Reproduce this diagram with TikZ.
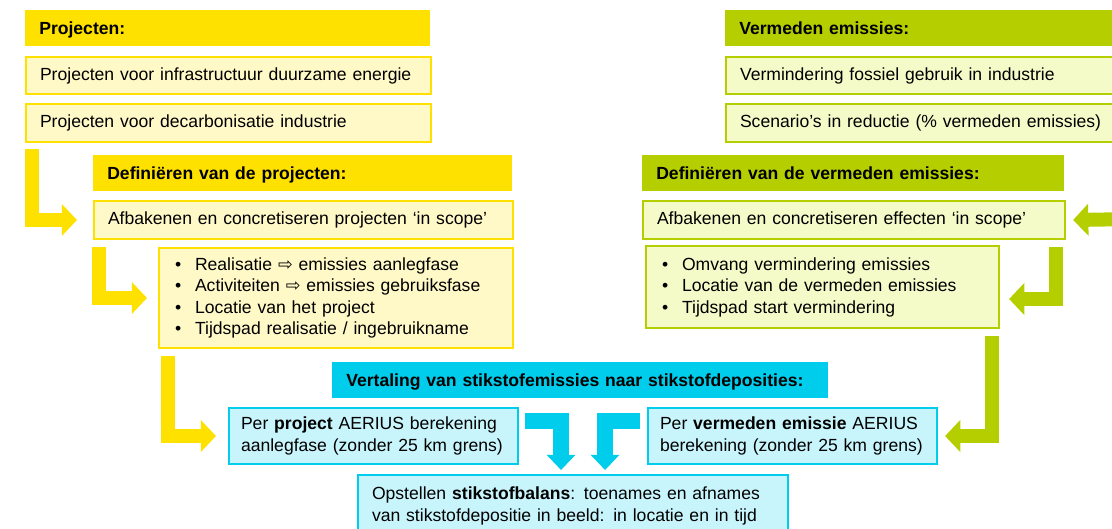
\documentclass[tikz,border=0pt]{standalone}
\usepackage{fontspec}
\setmainfont{Liberation Sans}
\newfontfamily\arrowfont{DejaVu Sans}
\usetikzlibrary{arrows.meta,calc}
\definecolor{yel}{RGB}{255,225,0}
\definecolor{yellight}{RGB}{255,249,200}
\definecolor{grn}{RGB}{181,206,0}
\definecolor{grnlight}{RGB}{245,251,200}
\definecolor{cyn}{RGB}{0,204,235}
\definecolor{cynlight}{RGB}{200,245,252}
\newcommand{\boxfont}{\fontsize{12.5}{15.3}\selectfont}
\newcommand{\itm}[1]{\makebox[0.55cm][l]{\hspace{0.05cm}\textbullet}#1}
\newcommand{\naar}{{\arrowfont\fontsize{12.5}{15}\selectfont ⇨}}

\begin{document}
\begin{tikzpicture}[x=0.025cm, y=-0.025cm,
	box/.style={rectangle, anchor=north west, align=left, inner xsep=0.35cm, inner ysep=0pt, font=\boxfont},
	hdr/.style={box, fill=#1, font=\boxfont\bfseries, minimum height=0.9cm, text height=0.32cm, text depth=0cm},
	item/.style={box, draw=#1, fill=#1light, line width=0.05cm},
	yarr/.style={draw=yel, line width=0.35cm, line join=miter, -{Triangle[length=0.38cm,width=0.78cm]}},
	garr/.style={draw=grn, line width=0.35cm, line join=miter, -{Triangle[length=0.38cm,width=0.78cm]}},
	carr/.style={draw=cyn, line width=0.4cm, line join=miter, -{Triangle[length=0.38cm,width=0.7cm]}}]
	\useasboundingbox (0,0) rectangle (1112,528);
	\clip (0,0) rectangle (1112,528);

	% projecten
	\node[hdr=yel, text width=9.425cm] (hdrP) at (25,10) {Projecten:};
	\node[item=yel, text width=9.425cm, minimum height=0.925cm] (p1) at (25,56) {Projecten voor infrastructuur duurzame  energie};
	\node[item=yel, text width=9.425cm, minimum height=0.95cm] (p2) at (25,103) {Projecten voor decarbonisatie industrie};
	\node[hdr=yel, text width=9.775cm] (hdrDP) at (93,155) {Definiëren van de projecten:};
	\node[item=yel, text width=9.775cm, minimum height=0.95cm] (afbL) at (93,200) {Afbakenen en concretiseren projecten ‘in scope’};
	\node[item=yel, text width=8.15cm, minimum height=2.5cm] (bulL) at (158,247) {\itm{Realisatie \naar{} emissies aanlegfase}\\\itm{Activiteiten \naar{} emissies gebruiksfase}\\\itm{Locatie van het project}\\\itm{Tijdspad realisatie / ingebruikname}};

	% vermeden emissies
	\node[hdr=grn, text width=9.425cm] (hdrV) at (725,10) {Vermeden emissies:};
	\node[item=grn, text width=9.425cm, minimum height=0.925cm] (v1) at (725,56) {Vermindering fossiel gebruik in industrie};
	\node[item=grn, text width=9.425cm, minimum height=0.95cm] (v2) at (725,103) {Scenario’s in reductie (\% vermeden emissies)};
	\node[hdr=grn, text width=9.85cm] (hdrDV) at (642,155) {Definiëren van de vermeden emissies:};
	\node[item=grn, text width=9.85cm, minimum height=0.95cm] (afbR) at (642,200) {Afbakenen en concretiseren effecten ‘in scope’};
	\node[item=grn, text width=8.125cm, minimum height=2.05cm] (bulR) at (645,245) {\itm{Omvang vermindering emissies}\\\itm{Locatie van de vermeden emissies}\\\itm{Tijdspad start vermindering}};

	% stikstof
	\node[hdr=cyn, text width=11.7cm] (hdrS) at (332,362) {Vertaling van stikstofemissies naar stikstofdeposities:};
	\node[item=cyn, inner xsep=0.3cm, text width=6.625cm, minimum height=1.4cm] (perP) at (228,407) {Per \textbf{project} AERIUS berekening\\aanlegfase (zonder 25 km grens)};
	\node[item=cyn, inner xsep=0.3cm, text width=6.625cm, minimum height=1.4cm] (perV) at (647,407) {Per \textbf{vermeden emissie} AERIUS\\berekening (zonder 25 km grens)};
	\node[item=cyn, text width=10.05cm, minimum height=1.55cm] (balans) at (357,474) {Opstellen \textbf{stikstofbalans}: toenames en afnames\\van stikstofdepositie in beeld: in locatie en in tijd};

	% arrows left
	\draw[yarr] ($(p2.south west)+(7,6)$) |- ([xshift=-0.4cm]afbL.west);
	\draw[yarr] ($(afbL.south west)+(6,7)$) |- ([xshift=-0.275cm]bulL.west);
	\draw[yarr] ($(bulL.south west)+(10,7)$) |- ([xshift=-0.3cm]perP.west);
	% arrows right
	\coordinate (inR) at (1135,219);
	\draw[garr] (inR) -- ([xshift=0.175cm]afbR.east);
	\draw[garr] ($(afbR.south east)+(-10,7)$) |- ($(bulR.east)+(9,12)$);
	\draw[garr] ($(bulR.south east)+(-8,7)$) |- ($(perV.east)+(7,0)$);
	% arrows down
	\draw[carr] ($(perP.north east)+(6,14)$) -| ($(balans.north)+(-12,-4)$);
	\draw[carr] ($(perV.north west)+(-7,14)$) -| ($(balans.north)+(32,-4)$);
\end{tikzpicture}
\end{document}
